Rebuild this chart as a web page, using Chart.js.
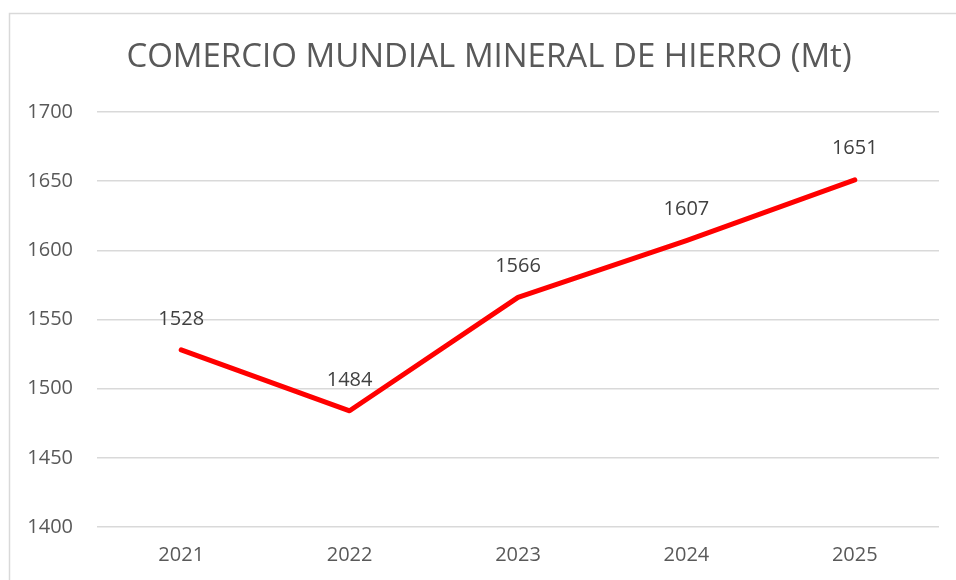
<!DOCTYPE html>
<html>
<head>
<meta charset="utf-8">
<script src="https://cdn.jsdelivr.net/npm/chart.js@4"></script>
<style>
  html, body { margin: 0; padding: 0; background: #fff; }
  #wrap { width: 956px; height: 580px; position: relative; }
</style>
</head>
<body>
<div id="wrap"><canvas id="c"></canvas></div>
<script>
const years = ["2021", "2022", "2023", "2024", "2025"]
const trade = [1528, 1484, 1566, 1607, 1651]
const yTicks = [1400, 1450, 1500, 1550, 1600, 1650, 1700]
const titleText = "COMERCIO MUNDIAL MINERAL DE HIERRO (Mt)"

const grey = "#595959"
const fontFamily = "'Open Sans', 'Noto Sans', sans-serif"

// marco del gráfico (recortado a derecha y abajo) + título
const framePlugin = {
  id: "frame",
  beforeDraw(chart) {
    const ctx = chart.ctx
    ctx.save()
    ctx.strokeStyle = "#d9d9d9"
    ctx.lineWidth = 1.5
    ctx.strokeRect(9.5, 13.5, 1000, 700)
    ctx.fillStyle = grey
    ctx.font = "33px " + fontFamily
    ctx.textAlign = "center"
    ctx.textBaseline = "middle"
    ctx.fillText(titleText, 489, 58)
    ctx.restore()
  }
}

// etiquetas de valor encima de cada punto
const valueLabels = {
  id: "valueLabels",
  afterDatasetsDraw(chart) {
    const ctx = chart.ctx
    const meta = chart.getDatasetMeta(0)
    ctx.save()
    ctx.fillStyle = "#404040"
    ctx.font = "20px " + fontFamily
    ctx.textAlign = "center"
    ctx.textBaseline = "middle"
    meta.data.forEach((pt, i) => {
      ctx.fillText(String(trade[i]), pt.x, pt.y - 31)
    })
    ctx.restore()
  }
}

new Chart(document.getElementById("c"), {
  type: "line",
  data: {
    labels: years,
    datasets: [{
      data: trade,
      borderColor: "#ff0000",
      borderWidth: 5,
      borderCapStyle: "round",
      borderJoinStyle: "round",
      pointRadius: 0,
      tension: 0,
      fill: false
    }]
  },
  options: {
    responsive: true,
    maintainAspectRatio: false,
    animation: false,
    layout: { padding: { left: 10, right: 17, top: 112, bottom: 0 } },
    plugins: {
      legend: { display: false },
      title: { display: false },
      tooltip: { enabled: false }
    },
    scales: {
      x: {
        offset: true,
        grid: { display: false, drawTicks: false },
        border: { display: false },
        ticks: { color: grey, font: { family: fontFamily, size: 20 }, padding: 16 },
        afterFit(scale) { scale.height = 53 }
      },
      y: {
        min: 1400,
        max: 1700,
        afterBuildTicks(scale) { scale.ticks = yTicks.map((v) => ({ value: v })) },
        grid: { color: "#d9d9d9", lineWidth: 1.5, drawTicks: false },
        border: { display: false },
        ticks: {
          color: grey,
          font: { family: fontFamily, size: 20 },
          padding: 24,
          callback: (v) => String(v)
        },
        afterFit(scale) { scale.width = 87 }
      }
    }
  },
  plugins: [framePlugin, valueLabels]
})
</script>
</body>
</html>
